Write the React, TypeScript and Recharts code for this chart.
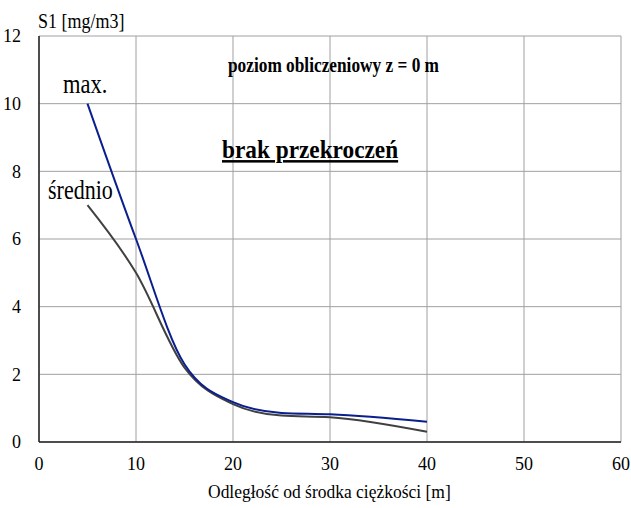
import React from 'react';
import { LineChart, Line, XAxis, YAxis, CartesianGrid } from 'recharts';

const distances = [5, 10, 15, 20, 25, 30, 40];
const maxValues = [10, 6.0, 2.3, 1.18, 0.86, 0.82, 0.6];
const avgValues = [7, 5.0, 2.2, 1.12, 0.78, 0.73, 0.3];
const xTicks = [0, 10, 20, 30, 40, 50, 60];
const yTicks = [0, 2, 4, 6, 8, 10, 12];

const data = distances.map((d, i) => ({ x: d, max: maxValues[i], avg: avgValues[i] }));

const font = 'Liberation Serif';

type TxtProps = { x: number; y: number; size: number; sy: number; bold?: boolean; underline?: boolean; children: React.ReactNode };
const Txt = ({ x, y, size, sy, bold, underline, children }: TxtProps) => (
  <g transform={`translate(${x},${y}) scale(1,${sy})`}>
    <text
      x={0}
      y={0}
      fontFamily={font}
      fontSize={size}
      fontWeight={bold ? 'bold' : 'normal'}
      fill="#000"
      style={underline ? { textDecoration: 'underline' } : undefined}
    >
      {children}
    </text>
  </g>
);

export default function App() {
  return (
    <div style={{ position: 'absolute', left: 0, top: 0, width: 631, height: 508, background: '#fff', fontFamily: font }}>
      <LineChart width={631} height={508} data={data} margin={{ top: 36, right: 10, bottom: 0, left: 0 }}>
        <CartesianGrid stroke="#a0a0a0" strokeWidth={1} />
        <XAxis
          dataKey="x"
          type="number"
          domain={[0, 60]}
          ticks={xTicks}
          height={66}
          tickLine={false}
          tickMargin={9}
          axisLine={{ stroke: '#222', strokeWidth: 1.5 }}
          tick={{ fill: '#000', fontSize: 18, fontFamily: font }}
        />
        <XAxis xAxisId="top" orientation="top" type="number" domain={[0, 60]} height={0} tick={false} tickLine={false} axisLine={{ stroke: '#222', strokeWidth: 1.5 }} />
        <YAxis
          type="number"
          domain={[0, 12]}
          ticks={yTicks}
          width={39}
          tickLine={false}
          tickMargin={12}
          axisLine={{ stroke: '#222', strokeWidth: 1.5 }}
          tick={{ fill: '#000', fontSize: 18, fontFamily: font }}
        />
        <YAxis yAxisId="right" orientation="right" type="number" domain={[0, 12]} width={0} tick={false} tickLine={false} axisLine={{ stroke: '#222', strokeWidth: 1.5 }} />
        <Line type="monotone" dataKey="avg" stroke="#404040" strokeWidth={2} dot={false} isAnimationActive={false} />
        <Line type="monotone" dataKey="max" stroke="#0a1f8f" strokeWidth={2} dot={false} isAnimationActive={false} />
      </LineChart>
      <svg width={631} height={508} style={{ position: 'absolute', left: 0, top: 0, pointerEvents: 'none' }}>
        <Txt x={38} y={28} size={18} sy={1.15}>S1 [mg/m3]</Txt>
        <Txt x={208} y={498} size={17.5} sy={1.12}>Odległość od środka ciężkości [m]</Txt>
        <Txt x={228} y={72} size={17.3} sy={1.2} bold>poziom obliczeniowy z = 0 m</Txt>
        <Txt x={222} y={158} size={23.3} sy={1.08} bold underline>brak przekroczeń</Txt>
        <Txt x={63} y={93} size={22.5} sy={1.25}>max.</Txt>
        <Txt x={48} y={199} size={22} sy={1.25}>średnio</Txt>
      </svg>
    </div>
  );
}
